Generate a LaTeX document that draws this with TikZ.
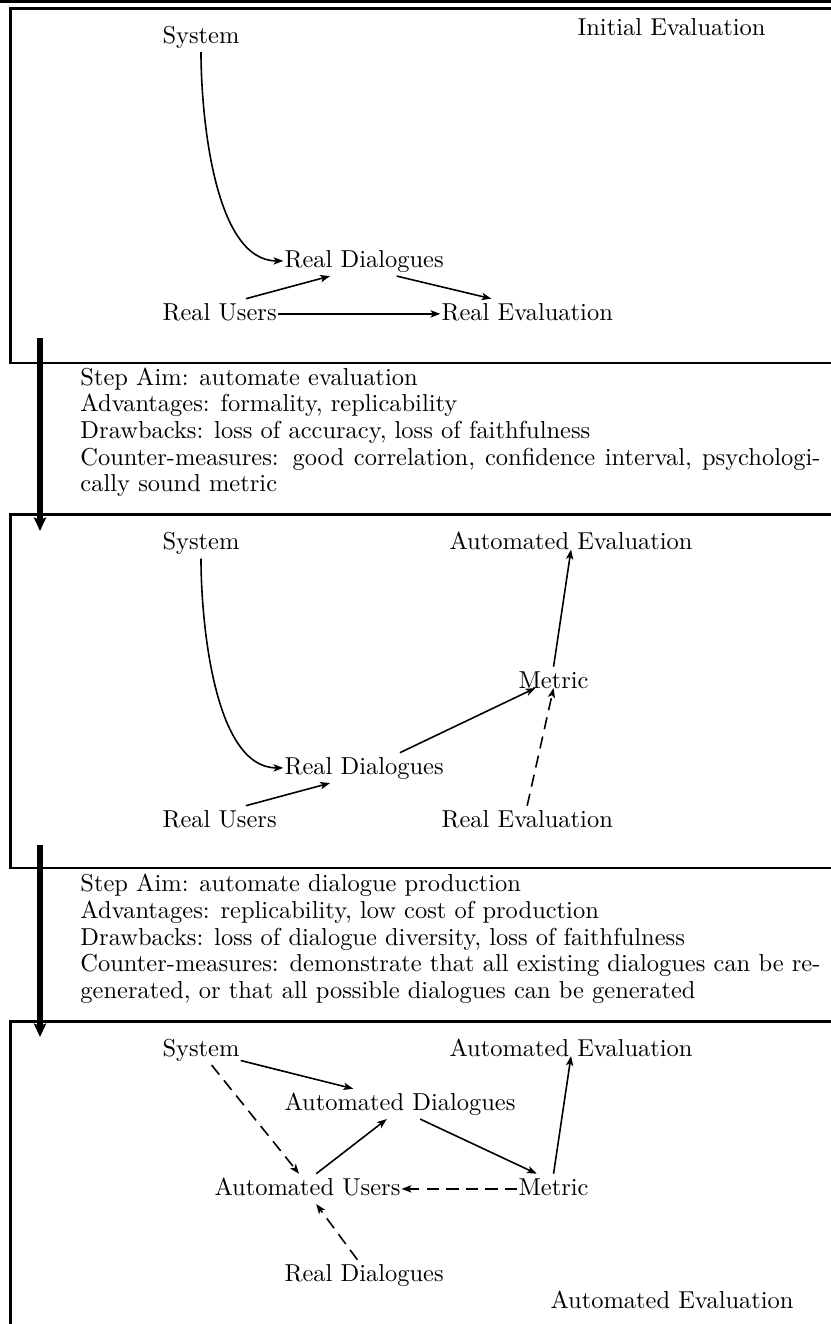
\documentclass[tikz,border=0pt]{standalone}
\usetikzlibrary{arrows.meta,calc}
\begin{document}
\begin{tikzpicture}[x=0.40866pt,y=-0.40866pt,
  lbl/.style={anchor=base west, inner xsep=0.3pt, inner ysep=1.5pt,
    text height=7pt, text depth=2pt, font=\fontsize{10}{12}\selectfont},
  frame/.style={line width=1pt},
  link/.style={line width=0.65pt, -{Stealth[length=4pt,width=3pt,inset=1pt]}},
  maybe/.style={link, dash pattern=on 5pt off 3pt},
  stage/.style={line width=2.2pt, -{Stealth[length=5.5pt,width=5pt,inset=1pt]}},
  notes/.style={anchor=base west, inner sep=0pt, font=\fontsize{10}{10.93}\selectfont}
]
\useasboundingbox (0,0) rectangle (831,1324);
\clip (0,0) rectangle (831,1324);

% frames of the three stages
\draw[line width=1.2pt] (0,1.5) -- (831,1.5);
\draw[frame] (831,8.5) -- (10.5,8.5) -- (10.5,363) -- (831,363);
\draw[frame] (831,514.5) -- (10.5,514.5) -- (10.5,868) -- (831,868);
\draw[frame] (831,1021.5) -- (10.5,1021.5) -- (10.5,1324);

% stage transitions
\coordinate (t1a) at (40,338);
\coordinate (t1b) at (40,531);
\coordinate (t2a) at (40,845);
\coordinate (t2b) at (40,1037);
\draw[stage] (t1a) -- (t1b);
\draw[stage] (t2a) -- (t2b);

% stage descriptions
\node[notes] (d1) at (80,385) {\parbox[t]{302.4pt}{\parindent=0pt
Step Aim: automate evaluation\par
Advantages: formality, replicability\par
Drawbacks: loss of accuracy, loss of faithfulness\par
\makebox[302.4pt][s]{Counter-measures: good correlation, confidence interval, psychologi-}\par
cally sound metric}};
\node[notes] (d2) at (80,891.5) {\parbox[t]{302.4pt}{\parindent=0pt
Step Aim: automate dialogue production\par
Advantages: replicability, low cost of production\par
Drawbacks: loss of dialogue diversity, loss of faithfulness\par
\makebox[302.4pt][s]{Counter-measures: demonstrate that all existing dialogues can be re-}\par
generated, or that all possible dialogues can be generated}};

% stage 1: initial evaluation
\node[lbl] (sys1) at (161.3,43) {System};
\node[lbl] (ie) at (576.3,35) {Initial Evaluation};
\node[lbl] (rd1) at (283.3,267) {Real Dialogues};
\node[lbl] (ru1) at (161.3,320) {Real Users};
\node[lbl] (re1) at (440.3,320) {Real Evaluation};
\draw[link] (sys1.south) .. controls ($(sys1.south)+(0,60)$) and ($(rd1.west)+(-70,0)$) .. (rd1.west);
\draw[link] (ru1.30) -- (rd1.204);
\draw[link] (ru1) -- (re1);
\draw[link] (rd1.-25) -- (re1.157);

% stage 2: automated evaluation
\node[lbl] (sys2) at (161.3,549.5) {System};
\node[lbl] (ae2) at (448.3,549.5) {Automated Evaluation};
\node[lbl] (met2) at (517.3,688) {Metric};
\node[lbl] (rd2) at (283.3,774) {Real Dialogues};
\node[lbl] (ru2) at (161.3,827) {Real Users};
\node[lbl] (re2) at (440.3,827) {Real Evaluation};
\draw[link] (sys2.south) .. controls ($(sys2.south)+(0,60)$) and ($(rd2.west)+(-70,0)$) .. (rd2.west);
\draw[link] (ru2.30) -- (rd2.204);
\draw[link] (rd2.23) -- ($(met2.base)!0.5!(met2.base west)$);
\draw[link] (met2.north) -- (ae2.base);
\draw[maybe] (re2.north) -- (met2.base);

% stage 3: automated dialogue production
\node[lbl] (sys3) at (161.3,1056) {System};
\node[lbl] (ae3) at (448.3,1056) {Automated Evaluation};
\node[lbl] (ad3) at (283.3,1110) {Automated Dialogues};
\node[lbl] (au3) at (213.3,1195) {Automated Users};
\node[lbl] (met3) at (517.3,1195) {Metric};
\node[lbl] (rd3) at (283.3,1281) {Real Dialogues};
\node[lbl] (ae3b) at (549.3,1308) {Automated Evaluation};
\draw[link] (sys3.-15) -- (ad3.162);
\draw[maybe] (sys3.-55) -- (au3.119);
\draw[link] (au3.60) -- (ad3.229);
\draw[link] (ad3.-37) -- (met3.138);
\draw[link] (met3.north) -- (ae3.base);
\draw[maybe] (met3) -- (au3);
\draw[maybe] (rd3.114) -- (au3.-60);
\end{tikzpicture}
\end{document}
